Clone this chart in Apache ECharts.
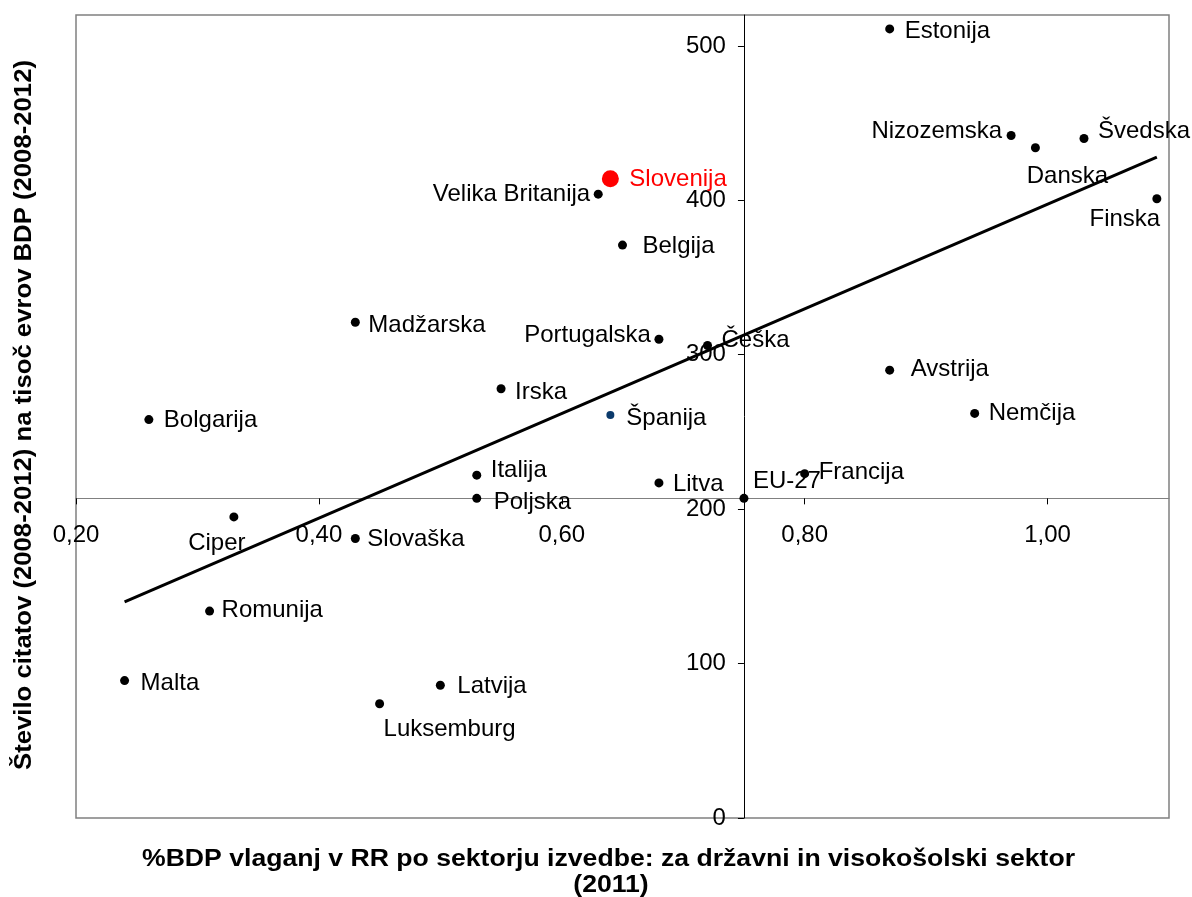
<!DOCTYPE html>
<html><head><meta charset="utf-8">
<script src="https://cdn.jsdelivr.net/npm/echarts@6/dist/echarts.min.js"></script>
<style>html,body{margin:0;padding:0;background:#fff}#c{width:1192px;height:897px}</style>
</head><body><div id="c"></div>
<script>
// ---- data ----
const countries = ['Estonija','Nizozemska','Danska','Švedska','Finska','Slovenija','Velika Britanija','Belgija','Madžarska','Portugalska','Češka','Avstrija','Irska','Bolgarija','Španija','Nemčija','Italija','Francija','Litva','Poljska','EU-27','Ciper','Slovaška','Romunija','Malta','Latvija','Luksemburg'];
const gdpShare  = [0.87,0.97,0.99,1.03,1.09,0.64,0.63,0.65,0.43,0.68,0.72,0.87,0.55,0.26,0.64,0.94,0.53,0.80,0.68,0.53,0.75,0.33,0.43,0.31,0.24,0.50,0.45];
const citations = [511,442,434,440,401,414,404,371,321,310,306,290,278,258,261,262,222,223,217,207,207,195,181,134,89,86,74];
const trendX = [0.24, 1.09];
const trendY = [140, 428];
const xTicks = [0.2, 0.4, 0.6, 0.8, 1.0];
const yTicks = [0, 100, 200, 300, 400, 500];
const xTitle1 = '%BDP vlaganj v RR po sektorju izvedbe: za državni in visokošolski sektor';
const xTitle2 = '(2011)';
const yTitle = 'Število citatov (2008-2012) na tisoč evrov BDP (2008-2012)';

// ---- layout / style ----
const FONT = '"Liberation Sans", Arial, sans-serif';
const G = {left: 76, top: 15, width: 1093, height: 803};
const xMin = 0.2, xMax = 1.1, yMin = 0, yMax = 520;
const eu = countries.indexOf('EU-27');
const crossX = gdpShare[eu], crossY = citations[eu];
const xAxisOffset = -(crossY - yMin) / (yMax - yMin) * G.height;
const yAxisOffset = -(crossX - xMin) / (xMax - xMin) * G.width;

// label placement: [align, dx, dy]
const labelPlace = {
  'Estonija': ['left', 15, 2], 'Nizozemska': ['right', -9, -4], 'Danska': ['center', 32, 29],
  'Švedska': ['left', 14, -7], 'Finska': ['center', -32, 21], 'Slovenija': ['left', 19, 1],
  'Velika Britanija': ['right', -8, 0], 'Belgija': ['left', 20, 1], 'Madžarska': ['left', 13, 3],
  'Portugalska': ['right', -8, -4], 'Češka': ['left', 14, -5], 'Avstrija': ['left', 21, -1],
  'Irska': ['left', 14, 4], 'Bolgarija': ['left', 15, 1], 'Španija': ['left', 16, 3],
  'Nemčija': ['left', 14, 0], 'Italija': ['left', 14, -5], 'Francija': ['left', 14, -1],
  'Litva': ['left', 14, 1], 'Poljska': ['left', 17, 4], 'EU-27': ['left', 9, -17],
  'Ciper': ['center', -17, 26], 'Slovaška': ['left', 12, 1], 'Romunija': ['left', 12, -1],
  'Malta': ['left', 16, 3], 'Latvija': ['left', 17, 1], 'Luksemburg': ['center', 70, 26]
};
const special = {
  'Slovenija': {size: 17, color: '#ff0000', labelColor: '#ff0000'},
  'Španija': {size: 8, color: '#0b3a6b'}
};

const points = countries.map((n, i) => {
  const p = labelPlace[n]; const s = special[n] || {};
  return {
    name: n, value: [gdpShare[i], citations[i]],
    symbolSize: s.size || 9,
    itemStyle: {color: s.color || '#000', opacity: 1},
    label: {show: true, position: 'inside', align: p[0], verticalAlign: 'middle',
      offset: [p[1], p[2]], color: s.labelColor || '#000', opacity: 1, fontSize: 24, fontFamily: FONT,
      textBorderWidth: 0, formatter: '{b}'}
  };
});

function fitScale(text, font, target) {
  const c = document.createElement('canvas').getContext('2d');
  c.font = font;
  return target / c.measureText(text).width;
}
const titleFont = 'bold 23px ' + FONT;
const sx = fitScale(xTitle1, titleFont, 933);
const sy = fitScale(yTitle, titleFont, 710);
const fmtX = v => v.toFixed(2).replace('.', ',');

const chart = echarts.init(document.getElementById('c'), null, {renderer: 'canvas'});
chart.setOption({
  animation: false,
  backgroundColor: '#fff',
  textStyle: {fontFamily: FONT},
  grid: {left: G.left, top: G.top, width: G.width, height: G.height, show: true,
    borderColor: '#808080', borderWidth: 1.5, backgroundColor: 'transparent',
    containLabel: false, outerBoundsMode: 'none'},
  xAxis: {
    type: 'value', min: xMin, max: xMax, interval: 0.2, position: 'bottom', offset: xAxisOffset,
    axisLine: {show: true, onZero: false, lineStyle: {color: '#808080', width: 1.2}},
    axisTick: {show: true, length: 6, lineStyle: {color: '#000'}, customValues: xTicks},
    axisLabel: {show: true, margin: 25, fontSize: 24, color: '#000', fontFamily: FONT,
      customValues: xTicks, formatter: fmtX},
    splitLine: {show: false}
  },
  yAxis: {
    type: 'value', min: yMin, max: yMax, interval: 100, position: 'left', offset: yAxisOffset,
    axisLine: {show: true, onZero: false, lineStyle: {color: '#000', width: 1}},
    axisTick: {show: true, length: 6, lineStyle: {color: '#000'}, customValues: yTicks},
    axisLabel: {show: true, margin: 18, fontSize: 24, color: '#000', fontFamily: FONT,
      customValues: yTicks},
    splitLine: {show: false}
  },
  series: [
    {type: 'scatter', z: 2, silent: true, emphasis: {disabled: true}, itemStyle: {opacity: 1}, data: points},
    {type: 'line', z: 3, silent: true, symbol: 'none', emphasis: {disabled: true},
      lineStyle: {color: '#000', width: 3},
      data: trendX.map((x, i) => [x, trendY[i]])}
  ],
  graphic: [
    {type: 'text', x: 608.5, y: 860, scaleX: sx, silent: true,
      style: {text: xTitle1, font: titleFont, fill: '#000', align: 'center', verticalAlign: 'middle',
        textAlign: 'center', textVerticalAlign: 'middle'}},
    {type: 'text', x: 611, y: 886, scaleX: sx, silent: true,
      style: {text: xTitle2, font: titleFont, fill: '#000', align: 'center', verticalAlign: 'middle',
        textAlign: 'center', textVerticalAlign: 'middle'}},
    {type: 'text', x: 25, y: 415, rotation: Math.PI / 2, scaleX: sy, silent: true,
      style: {text: yTitle, font: titleFont, fill: '#000', align: 'center', verticalAlign: 'middle',
        textAlign: 'center', textVerticalAlign: 'middle'}}
  ]
});
</script>
</body></html>
